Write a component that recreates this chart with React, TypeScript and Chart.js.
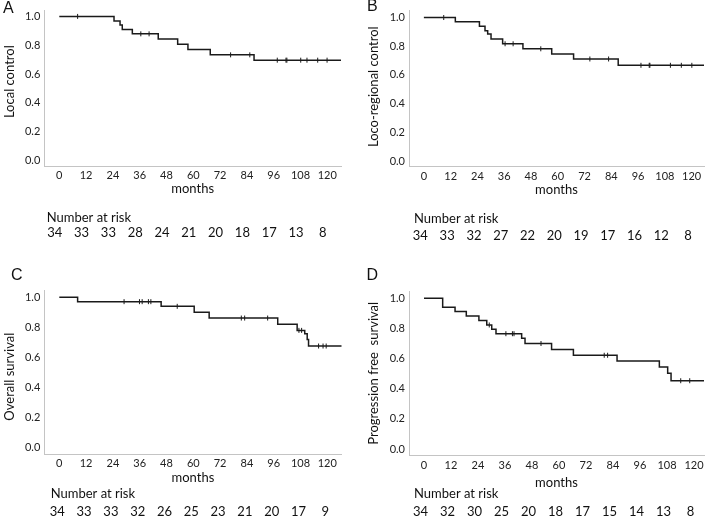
import React, { useEffect, useRef } from 'react';
import { Chart, registerables } from 'chart.js';
Chart.register(...registerables);

// ---------- data ----------
const monthTicks = [0, 12, 24, 36, 48, 60, 72, 84, 96, 108, 120];
const survTicks = [0, 0.2, 0.4, 0.6, 0.8, 1.0];

// A: Local control
const lcTimes = [0, 24.5, 27.2, 28.2, 32.7, 44.3, 53.0, 57.6, 67.6, 87.2, 127];
const lcSurv = [1.0, 0.968, 0.941, 0.909, 0.879, 0.843, 0.806, 0.770, 0.733, 0.696, 0.696];
const lcCensor = [8.2, 36.5, 40.2, 76.7, 85.3, 97.6, 101.5, 101.9, 108.1, 110.9, 115.7, 119.9];
const lcRisk = [34, 33, 33, 28, 24, 21, 20, 18, 17, 13, 8];

// B: Loco-regional control
const lrcTimes = [0, 14.1, 24.9, 27.4, 28.6, 30.1, 35.3, 44.4, 57.3, 67.1, 87.1, 127];
const lrcSurv = [1.0, 0.971, 0.940, 0.907, 0.885, 0.850, 0.817, 0.782, 0.746, 0.711, 0.667, 0.667];
const lrcCensor = [8.9, 36.4, 40.0, 52.4, 74.4, 82.8, 97.3, 101.0, 101.3, 110.5, 115.4, 120.1];
const lrcRisk = [34, 33, 32, 27, 22, 20, 19, 17, 16, 12, 8];

// C: Overall survival
const osTimes = [0, 8.2, 45.6, 60.4, 67.1, 97.8, 106.5, 109.9, 111.0, 111.6, 127];
const osSurv = [1.0, 0.971, 0.940, 0.900, 0.862, 0.820, 0.780, 0.757, 0.720, 0.676, 0.676];
const osCensor = [29.0, 35.9, 37.1, 39.9, 41.0, 52.8, 81.5, 83.0, 93.3, 107.3, 108.5, 116.1, 118.1, 119.5];
const osRisk = [34, 33, 33, 32, 26, 25, 23, 21, 20, 17, 9];

// D: Progression free survival
const pfsTimes = [0, 8.3, 13.8, 18.8, 24.4, 27.9, 30.1, 32.0, 43.4, 44.9, 56.7, 66.4, 85.8, 104.6, 108.3, 109.8, 127];
const pfsSurv = [1.0, 0.941, 0.912, 0.882, 0.853, 0.823, 0.794, 0.765, 0.735, 0.700, 0.661, 0.622, 0.584, 0.544, 0.502, 0.453, 0.453];
const pfsCensor = [29.0, 36.4, 39.3, 40.0, 52.0, 80.1, 81.6, 114.1, 118.1];
const pfsRisk = [34, 32, 30, 25, 20, 18, 17, 15, 14, 13, 8];

// ---------- layout ----------
type Panel = {
  letter: string;
  yTitle: string;
  times: number[];
  surv: number[];
  censor: number[];
  risk: number[];
  box: { left: number; top: number; width: number; height: number };
  x0: number; x120: number; axL: number; axR: number;
  y0: number; y1: number; axB: number; axT: number;
  letterPos: [number, number];
  yTitlePos: [number, number];
  monthsY: number;
  riskLabelPos: [number, number];
  riskY: number;
  riskShift: number;
};

const panels: Panel[] = [
  {
    letter: 'A', yTitle: 'Local control', times: lcTimes, surv: lcSurv, censor: lcCensor, risk: lcRisk,
    box: { left: 0, top: 0, width: 354, height: 258 },
    x0: 59.3, x120: 327.3, axL: 44.3, axR: 341, y0: 160, y1: 6.7, axB: 166, axT: 0.5,
    letterPos: [8.3, 8.3], yTitlePos: [10, 81.7], monthsY: 189.3,
    riskLabelPos: [46.7, 218.3], riskY: 233.3, riskShift: -4.5,
  },
  {
    letter: 'B', yTitle: 'Loco-regional control', times: lrcTimes, surv: lrcSurv, censor: lrcCensor, risk: lrcRisk,
    box: { left: 354, top: 0, width: 355, height: 258 },
    x0: 424, x120: 694, axL: 409, axR: 706.5, y0: 160.7, y1: 9.3, axB: 166.7, axT: 2,
    letterPos: [372.3, 6.7], yTitlePos: [374, 86.7], monthsY: 190,
    riskLabelPos: [414, 219.3], riskY: 236, riskShift: -3.5,
  },
  {
    letter: 'C', yTitle: 'Overall survival', times: osTimes, surv: osSurv, censor: osCensor, risk: osRisk,
    box: { left: 0, top: 258, width: 354, height: 260 },
    x0: 59.3, x120: 327.3, axL: 44.3, axR: 341.5, y0: 447.7, y1: 297.3, axB: 454, axT: 290,
    letterPos: [16.7, 275.7], yTitlePos: [10, 376.7], monthsY: 478.3,
    riskLabelPos: [50.7, 494.3], riskY: 512.3, riskShift: -2,
  },
  {
    letter: 'D', yTitle: 'Progression free  survival', times: pfsTimes, surv: pfsSurv, censor: pfsCensor, risk: pfsRisk,
    box: { left: 354, top: 258, width: 355, height: 260 },
    x0: 424, x120: 694, axL: 409, axR: 704, y0: 449, y1: 298.3, axB: 455.7, axT: 291,
    letterPos: [372.3, 275.7], yTitlePos: [374, 373.3], monthsY: 482.7,
    riskLabelPos: [414, 494.3], riskY: 512.3, riskShift: -3.5,
  },
];

const FONT = 'Lato, "Open Sans", sans-serif';
const LINE = '#1a1a1a';
const AXIS = '#c4c4c4';
const TEXT = '#111111';
const TICK = '#222222';

function survAt(times: number[], surv: number[], t: number): number {
  let v = surv[0];
  for (let i = 0; i < times.length; i++) {
    if (times[i] <= t) v = surv[i];
  }
  return v;
}

function KMPanel({ p }: { p: Panel }) {
  const ref = useRef<HTMLCanvasElement | null>(null);
  useEffect(() => {
    if (!ref.current) return;
    const ppm = (p.x120 - p.x0) / 120;
    const xMin = -(p.x0 - p.axL) / ppm;
    const xMax = (p.axR - p.x0) / ppm;
    const ppu = p.y0 - p.y1;
    const yMin = -(p.axB - p.y0) / ppu;
    const yMax = (p.y0 - p.axT) / ppu;
    const bx = p.box.left;
    const by = p.box.top;

    const textPlugin = {
      id: 'kmText' + p.letter,
      afterDraw(chart: any) {
        const ctx = chart.ctx as CanvasRenderingContext2D;
        const xs = chart.scales.x;
        ctx.save();
        ctx.fillStyle = TEXT;
        // panel letter
        ctx.font = '16px "Liberation Sans", Arial, sans-serif';
        ctx.textAlign = 'center';
        ctx.textBaseline = 'middle';
        ctx.fillText(p.letter, p.letterPos[0] - bx, p.letterPos[1] - by);
        // y title
        ctx.save();
        ctx.translate(p.yTitlePos[0] - bx, p.yTitlePos[1] - by);
        ctx.rotate(-Math.PI / 2);
        ctx.font = '13px ' + FONT;
        ctx.textAlign = 'center';
        ctx.textBaseline = 'middle';
        ctx.fillText(p.yTitle, 0, 0);
        ctx.restore();
        // months
        ctx.font = '13px ' + FONT;
        ctx.textAlign = 'center';
        ctx.textBaseline = 'middle';
        const cx = (chart.chartArea.left + chart.chartArea.right) / 2;
        ctx.fillText('months', cx, p.monthsY - by);
        // number at risk
        ctx.textAlign = 'left';
        ctx.fillText('Number at risk', p.riskLabelPos[0] - bx, p.riskLabelPos[1] - by);
        ctx.textAlign = 'center';
        ctx.font = '13px ' + FONT;
        p.risk.forEach((n, i) => {
          const x = xs.getPixelForValue(monthTicks[i]) + p.riskShift;
          ctx.fillText(String(n), x, p.riskY - by);
        });
        ctx.restore();
      },
    };

    const chart = new Chart(ref.current, {
      type: 'line',
      data: {
        datasets: [
          {
            data: p.times.map((t, i) => ({ x: t, y: p.surv[i] })),
            stepped: 'before',
            borderColor: LINE,
            borderWidth: 1.5,
            pointRadius: 0,
            fill: false,
          } as any,
          {
            data: p.censor.map((t) => ({ x: t, y: survAt(p.times, p.surv, t) })),
            showLine: false,
            pointStyle: 'line',
            rotation: 90,
            pointRadius: 2.5,
            borderColor: LINE,
            borderWidth: 1,
            backgroundColor: LINE,
          } as any,
        ],
      },
      options: {
        animation: false,
        responsive: true,
        maintainAspectRatio: false,
        events: [],
        layout: {
          padding: {
            left: 0,
            top: p.axT - by,
            right: bx + p.box.width - p.axR,
            bottom: 0,
          },
        },
        plugins: {
          legend: { display: false },
          tooltip: { enabled: false },
        },
        scales: {
          x: {
            type: 'linear',
            min: xMin,
            max: xMax,
            grid: { display: false, drawTicks: false },
            border: { display: true, color: AXIS, width: 1 },
            ticks: {
              color: TICK,
              font: { family: FONT, size: 11 },
              padding: 3,
              maxRotation: 0,
              callback: (v: any) => String(v),
            },
            afterBuildTicks: (scale: any) => {
              scale.ticks = monthTicks.map((v) => ({ value: v }));
            },
            afterFit: (scale: any) => {
              scale.height = by + p.box.height - p.axB;
            },
          },
          y: {
            type: 'linear',
            min: yMin,
            max: yMax,
            grid: { display: false, drawTicks: false },
            border: { display: true, color: AXIS, width: 1 },
            ticks: {
              color: TICK,
              font: { family: FONT, size: 11 },
              padding: 4,
              callback: (v: any) => Number(v).toFixed(1),
            },
            afterBuildTicks: (scale: any) => {
              scale.ticks = survTicks.map((v) => ({ value: v }));
            },
            afterFit: (scale: any) => {
              scale.width = p.axL - bx;
            },
          },
        },
      } as any,
      plugins: [textPlugin],
    });
    return () => chart.destroy();
  }, [p]);

  return (
    <div
      style={{
        position: 'absolute',
        left: p.box.left,
        top: p.box.top,
        width: p.box.width,
        height: p.box.height,
      }}
    >
      <canvas ref={ref} />
    </div>
  );
}

export default function App() {
  return (
    <div
      style={{
        position: 'fixed',
        left: 0,
        top: 0,
        width: 709,
        height: 518,
        background: '#ffffff',
        overflow: 'hidden',
      }}
    >
      {panels.map((p) => (
        <KMPanel key={p.letter} p={p} />
      ))}
    </div>
  );
}
